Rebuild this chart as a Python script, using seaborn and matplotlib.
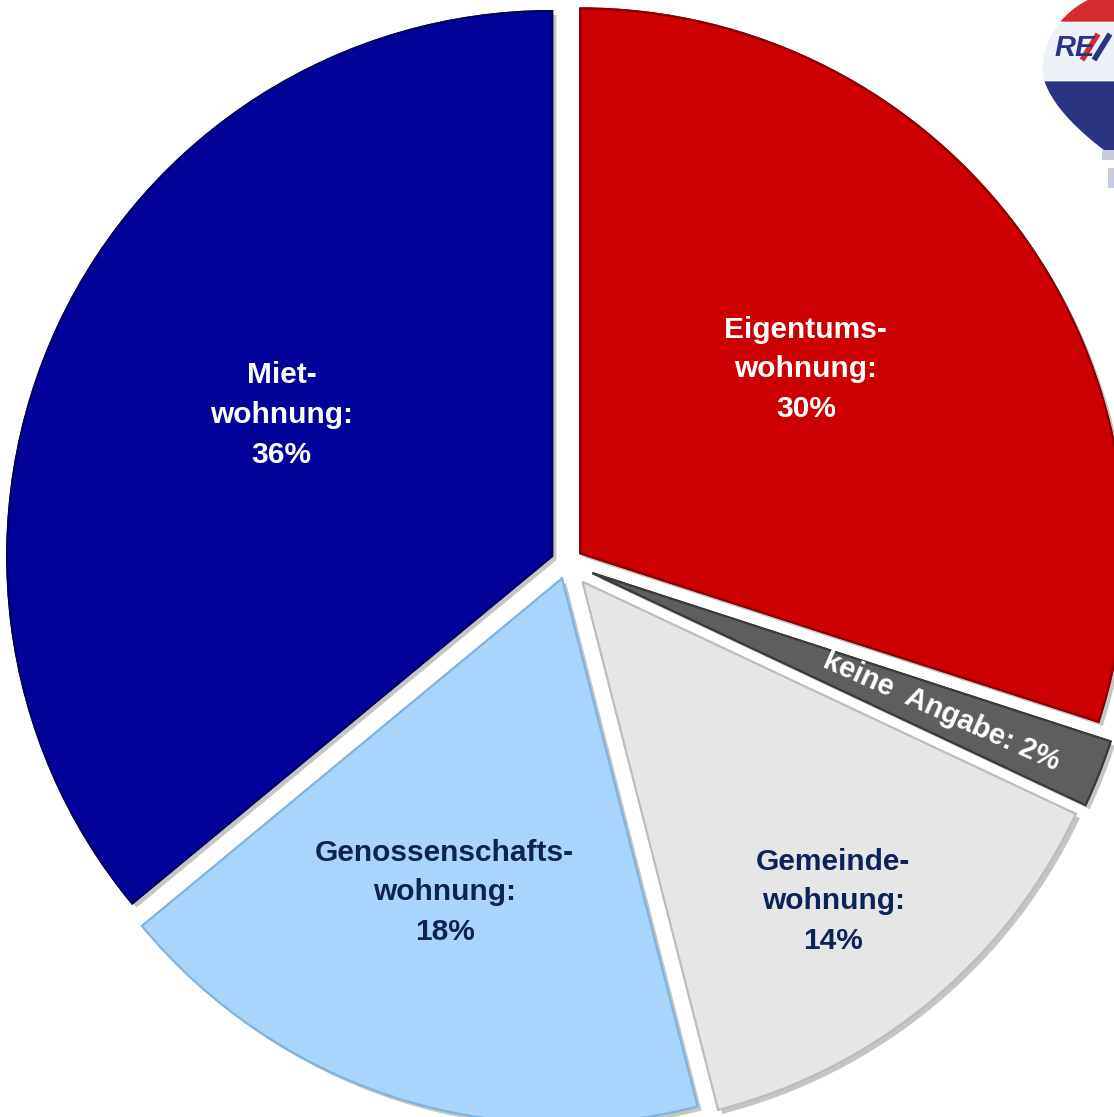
import seaborn as sns
import matplotlib.pyplot as plt
import matplotlib.patheffects as pe
from matplotlib.patches import Rectangle
import numpy as np

# Daten
kategorien = ["Eigentums-\nwohnung:\n30%", "keine  Angabe: 2%", "Gemeinde-\nwohnung:\n14%",
              "Genossenschafts-\nwohnung:\n18%", "Miet-\nwohnung:\n36%"]
anteile = [30, 2, 14, 18, 36]
farben = ["#CC0000", "#5E5E5E", "#E6E6E6", "#A8D5FB", "#02029A"]
kanten = ["#8A0000", "#3A3A3A", "#BDBDBD", "#7FB3E0", "#000060"]
textfarben = ["white", "white", "#0D2358", "#0D2358", "white"]
explode = [0.03, 0.05, 0.045, 0.03, 0.03]
label_r = [0.534, 0.69, 0.745, 0.615, 0.56]
label_dwinkel = [3.2, 0, -1.5, -2.5, -2.3]

sns.set_theme(style="white")
plt.rcParams["font.family"] = ["Liberation Sans Narrow", "Liberation Sans", "DejaVu Sans"]

fig = plt.figure(figsize=(11.14, 11.17), dpi=100)
ax = fig.add_axes([0, 0, 1, 1])

wedges, _ = ax.pie(anteile, colors=farben, startangle=90, counterclock=False,
                   explode=explode, radius=1.0,
                   wedgeprops=dict(linewidth=1.5))

for w, k in zip(wedges, kanten):
    w.set_edgecolor(k)
    w.set_path_effects([pe.withSimplePatchShadow(offset=(3, -3), shadow_rgbFace="#808080", alpha=0.45),
                        pe.Normal()])

for i, w in enumerate(wedges):
    theta = np.deg2rad((w.theta1 + w.theta2) / 2 + label_dwinkel[i])
    cx, cy = w.center
    x = cx + label_r[i] * np.cos(theta)
    y = cy + label_r[i] * np.sin(theta)
    klein = anteile[i] == 2
    ax.text(x, y, kategorien[i], ha="center", va="center", color=textfarben[i],
            fontsize=21 if klein else 21.5, fontweight="bold",
            rotation=-24 if klein else 0, linespacing=1.53,
            rotation_mode="anchor")

# Bildausschnitt: Radius ~545 px
ax.set_xlim(-567 / 545, (1114 - 567) / 545)
ax.set_ylim(-(1117 - 563) / 545, 563 / 545)
ax.set_aspect("equal")
ax.axis("off")

# RE/MAX Ballon (angedeutet)
lax = fig.add_axes([1020 / 1114, 1 - 200 / 1117, 94 / 1114, 200 / 1117])
lax.set_xlim(0, 94)
lax.set_ylim(200, 0)
lax.axis("off")
yo = np.linspace(-10, 70, 60)
xo = 108 - 86 * np.sqrt(np.clip(1 - ((yo - 70) / 80) ** 2, 0, 1))
yu = np.linspace(70, 150, 60)
xu = 22 + 62 * ((yu - 70) / 80) ** 1.7
yb = np.concatenate([yo, yu])
xb = np.concatenate([xo, xu])
for y0, y1, c in [(-10, 22, "#D52B2E"), (22, 80, "#EEF0F7"), (80, 150, "#2B3383")]:
    m = (yb >= y0) & (yb <= y1)
    lax.fill_betweenx(yb[m], xb[m], 120, color=c, linewidth=0)
lax.add_patch(Rectangle((82, 150), 12, 10, facecolor="#C9CCE0", edgecolor="none"))
lax.add_patch(Rectangle((88, 168), 6, 20, facecolor="#C9CCE0", edgecolor="none"))
lax.text(34, 48, "RE", color="#2B3383", fontsize=21, fontweight="bold", va="center",
         style="italic", family=["Liberation Sans", "DejaVu Sans"])
lax.plot([62, 78], [60, 34], color="#D52B2E", linewidth=4, solid_capstyle="butt")
lax.plot([74, 90], [60, 34], color="#2B3383", linewidth=4, solid_capstyle="butt")

fig.savefig("out.png", dpi=100, facecolor="white")
